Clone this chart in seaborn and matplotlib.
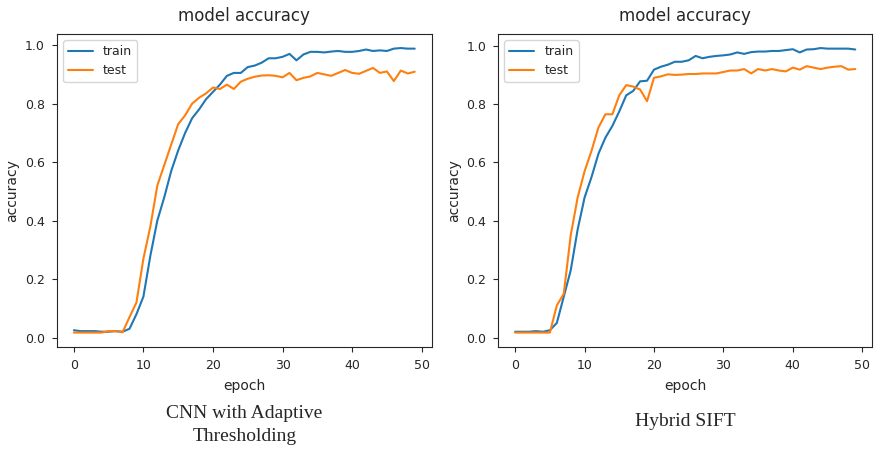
import numpy as np
import pandas as pd
import matplotlib
matplotlib.use("Agg")
import matplotlib.pyplot as plt
import seaborn as sns

epochs = list(range(50))

# CNN with Adaptive Thresholding
cnn_train = [0.025, 0.022, 0.022, 0.022, 0.020, 0.020, 0.022, 0.020, 0.030, 0.080,
             0.140, 0.280, 0.400, 0.480, 0.570, 0.640, 0.700, 0.750, 0.780, 0.815,
             0.840, 0.865, 0.895, 0.905, 0.905, 0.925, 0.930, 0.940, 0.955, 0.955,
             0.960, 0.970, 0.948, 0.968, 0.977, 0.977, 0.975, 0.978, 0.980, 0.977,
             0.977, 0.980, 0.985, 0.980, 0.982, 0.980, 0.988, 0.990, 0.988, 0.988]
cnn_test = [0.017, 0.017, 0.017, 0.017, 0.017, 0.022, 0.022, 0.018, 0.070, 0.120,
            0.270, 0.380, 0.520, 0.590, 0.660, 0.730, 0.760, 0.800, 0.820, 0.835,
            0.855, 0.850, 0.865, 0.850, 0.875, 0.885, 0.892, 0.896, 0.897, 0.895,
            0.890, 0.905, 0.880, 0.888, 0.893, 0.905, 0.900, 0.895, 0.905, 0.915,
            0.905, 0.902, 0.912, 0.922, 0.905, 0.910, 0.877, 0.913, 0.903, 0.909]

# Hybrid SIFT
sift_train = [0.020, 0.020, 0.020, 0.022, 0.020, 0.025, 0.050, 0.140, 0.230, 0.370,
              0.480, 0.550, 0.630, 0.685, 0.725, 0.775, 0.830, 0.845, 0.878, 0.880,
              0.918, 0.928, 0.935, 0.945, 0.945, 0.950, 0.965, 0.957, 0.962, 0.965,
              0.967, 0.970, 0.977, 0.972, 0.978, 0.980, 0.980, 0.982, 0.982, 0.985,
              0.988, 0.977, 0.987, 0.988, 0.992, 0.990, 0.990, 0.990, 0.990, 0.987]
sift_test = [0.017, 0.017, 0.017, 0.017, 0.017, 0.017, 0.110, 0.150, 0.350, 0.480,
             0.570, 0.640, 0.720, 0.765, 0.765, 0.830, 0.865, 0.860, 0.850, 0.810,
             0.890, 0.895, 0.902, 0.900, 0.901, 0.903, 0.903, 0.905, 0.905, 0.905,
             0.910, 0.915, 0.915, 0.920, 0.905, 0.920, 0.915, 0.920, 0.915, 0.912,
             0.925, 0.918, 0.930, 0.925, 0.920, 0.925, 0.928, 0.930, 0.918, 0.920]

captions = ["CNN with Adaptive\nThresholding", "Hybrid SIFT"]
panels = [(cnn_train, cnn_test), (sift_train, sift_test)]

sns.set_style("ticks")
plt.rcParams["font.family"] = ["DejaVu Sans"]

fig = plt.figure(figsize=(8.74, 4.51), dpi=100)
positions = [[0.065, 0.231, 0.429, 0.694], [0.570, 0.231, 0.428, 0.694]]
caption_y = [0.058, 0.066]

for pos, (train, test), cap, cy in zip(positions, panels, captions, caption_y):
    ax = fig.add_axes(pos)
    df = pd.DataFrame({
        "epoch": epochs * 2,
        "accuracy": train + test,
        "split": ["train"] * len(epochs) + ["test"] * len(epochs),
    })
    sns.lineplot(data=df, x="epoch", y="accuracy", hue="split",
                 palette=["#1f77b4", "#ff7f0e"], linewidth=1.5, ax=ax)
    ax.set_xticks([0, 10, 20, 30, 40, 50])
    ax.set_yticks([0.0, 0.2, 0.4, 0.6, 0.8, 1.0])
    ax.tick_params(labelsize=9, length=3.5, width=0.8, pad=5)
    ax.set_title("model accuracy", fontsize=12, pad=9)
    ax.set_xlabel("epoch", fontsize=10, labelpad=5)
    ax.set_ylabel("accuracy", fontsize=10)
    for s in ax.spines.values():
        s.set_linewidth(0.8)
    leg = ax.legend(loc="upper left", fontsize=9, frameon=True)
    leg.set_title(None)
    fig.text(pos[0] + pos[2] / 2, cy, cap, ha="center", va="center",
             fontsize=14, family="Liberation Serif", linespacing=1.5)

fig.savefig("out.png", dpi=100)
